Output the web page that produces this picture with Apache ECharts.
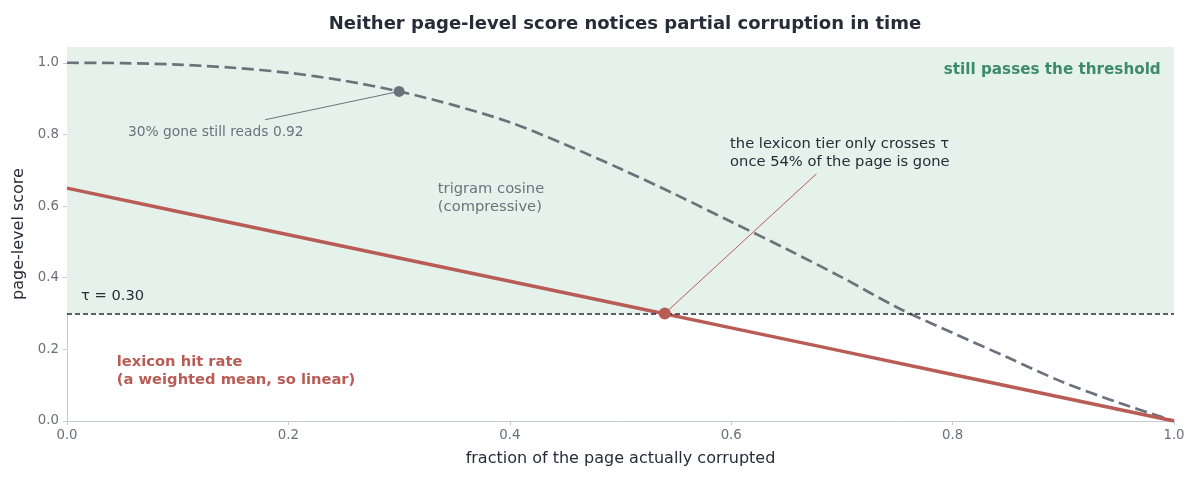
<!DOCTYPE html>
<html>
<head>
<meta charset="utf-8">
<script src="https://cdn.jsdelivr.net/npm/echarts@6/dist/echarts.min.js"></script>
<style>
  html, body { margin: 0; padding: 0; background: #fff; }
  #main { width: 1200px; height: 480px; }
</style>
</head>
<body>
<div id="main"></div>
<script>
// data
var fracX = [0, 0.05, 0.1, 0.15, 0.2, 0.25, 0.3, 0.35, 0.4, 0.45, 0.5, 0.55, 0.6, 0.65, 0.7, 0.75, 0.8, 0.85, 0.9, 0.95, 1.0];
var trigram = [1.0, 0.999, 0.995, 0.986, 0.972, 0.95, 0.92, 0.881, 0.834, 0.772, 0.704, 0.632, 0.556, 0.48, 0.401, 0.317, 0.246, 0.177, 0.108, 0.051, 0.0];
var lexX = [0, 0.1, 0.2, 0.3, 0.4, 0.5, 0.6, 0.7, 0.8, 0.9, 1.0];
var lexicon = [0.65, 0.585, 0.52, 0.455, 0.39, 0.325, 0.26, 0.195, 0.13, 0.065, 0.0];
var tau = 0.30;
var trigramPoint = [0.30, 0.92];
var lexiconCross = [0.54, 0.30];
var yTicks = [0, 0.2, 0.4, 0.6, 0.8, 1.0];

var FONT = 'DejaVu Sans';
var RED = '#b85c55';
var SLATE = '#6b727c';
var DARK = '#262c38';
var GREEN = '#3d8a6e';

function pairs(xs, ys) {
    return xs.map(function (x, i) { return [x, ys[i]]; });
}

var myChart = echarts.init(document.getElementById('main'));

var option = {
    backgroundColor: '#fff',
    animation: false,
    textStyle: { fontFamily: FONT },
    title: {
        text: 'Neither page-level score notices partial corruption in time',
        left: 620,
        textAlign: 'center',
        top: 10,
        textStyle: { fontFamily: FONT, fontSize: 18, fontWeight: 'bold', color: DARK }
    },
    grid: { left: 67, right: 26, top: 47, bottom: 59 },
    xAxis: {
        type: 'value',
        min: 0,
        max: 1,
        interval: 0.2,
        name: 'fraction of the page actually corrupted',
        nameLocation: 'middle',
        nameGap: 30,
        nameTextStyle: { fontFamily: FONT, fontSize: 16, color: DARK },
        axisLine: { show: true, lineStyle: { color: '#c5cbd0', width: 1 } },
        axisTick: { show: true, length: 4, lineStyle: { color: '#c5cbd0' } },
        axisLabel: {
            fontFamily: FONT, fontSize: 13.3, color: '#6a6f7a', margin: 8,
            formatter: function (v) { return v.toFixed(1); }
        },
        splitLine: { show: false }
    },
    yAxis: {
        type: 'value',
        min: 0,
        max: 1.044,
        interval: 0.2,
        name: 'page-level score',
        nameLocation: 'middle',
        nameGap: 36,
        nameTextStyle: { fontFamily: FONT, fontSize: 16, color: DARK },
        axisLine: { show: true, lineStyle: { color: '#c5cbd0', width: 1 } },
        axisTick: { show: true, length: 4, lineStyle: { color: '#c5cbd0' } },
        axisLabel: {
            fontFamily: FONT, fontSize: 13.3, color: '#6a6f7a', margin: 8,
            showMaxLabel: false,
            formatter: function (v) { return yTicks.indexOf(Math.round(v * 10) / 10) >= 0 ? v.toFixed(1) : ''; }
        },
        splitLine: { show: false }
    },
    series: [
        {
            // pass zone + threshold
            name: 'threshold',
            type: 'line',
            data: [],
            silent: true,
            markArea: {
                silent: true,
                itemStyle: { color: '#e5f2eb' },
                data: [[{ xAxis: 0, yAxis: tau }, { xAxis: 1, yAxis: 1.044 }]]
            },
            markLine: {
                silent: true,
                symbol: 'none',
                label: { show: false },
                lineStyle: { color: DARK, type: [5, 3], width: 1.6 },
                data: [{ yAxis: tau }]
            },
            z: 1
        },
        {
            name: 'trigram cosine',
            type: 'line',
            data: pairs(fracX, trigram),
            smooth: 0.3,
            showSymbol: false,
            lineStyle: { color: SLATE, width: 2.7, type: [12, 5.5] },
            z: 3
        },
        {
            name: 'lexicon hit rate',
            type: 'line',
            data: pairs(lexX, lexicon),
            showSymbol: false,
            lineStyle: { color: RED, width: 3.5 },
            z: 4
        },
        {
            // leader lines
            type: 'line',
            data: [[0.179, 0.841], trigramPoint],
            showSymbol: false,
            lineStyle: { color: SLATE, width: 1 },
            z: 5
        },
        {
            type: 'line',
            data: [[0.677, 0.69], lexiconCross],
            showSymbol: false,
            lineStyle: { color: RED, width: 1 },
            z: 5
        },
        {
            type: 'scatter',
            data: [trigramPoint],
            symbolSize: 11,
            itemStyle: { color: SLATE, opacity: 1 },
            z: 6
        },
        {
            type: 'scatter',
            data: [lexiconCross],
            symbolSize: 12,
            itemStyle: { color: RED, opacity: 1 },
            z: 6
        }
    ]
};
myChart.setOption(option);

// annotations placed in data coordinates
function txt(x, y, text, style) {
    var p = myChart.convertToPixel({ gridIndex: 0 }, [x, y]);
    return {
        type: 'text',
        x: p[0],
        y: p[1],
        z: 10,
        style: Object.assign({
            text: text,
            fontFamily: FONT,
            fontSize: 14.7,
            lineHeight: 18,
            textVerticalAlign: 'middle'
        }, style)
    };
}

myChart.setOption({
    graphic: [
        txt(0.055, 0.806, '30% gone still reads 0.92', { fill: SLATE, fontSize: 13.8 }),
        txt(0.335, 0.623, 'trigram cosine\n(compressive)', { fill: SLATE }),
        txt(0.599, 0.748, 'the lexicon tier only crosses τ\nonce 54% of the page is gone', { fill: DARK }),
        txt(0.0126, 0.349, 'τ = 0.30', { fill: DARK }),
        txt(0.045, 0.14, 'lexicon hit rate\n(a weighted mean, so linear)', { fill: RED, fontWeight: 'bold' }),
        txt(0.988, 0.981, 'still passes the threshold', { fill: GREEN, fontWeight: 'bold', fontSize: 15.2, textAlign: 'right' })
    ]
});
</script>
</body>
</html>
